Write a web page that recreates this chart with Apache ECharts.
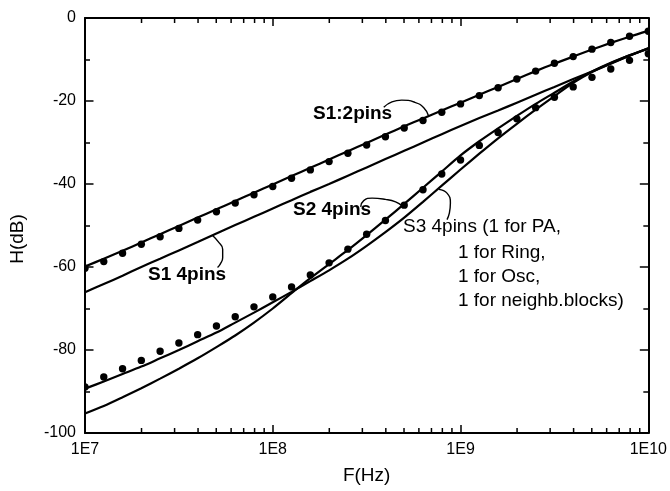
<!DOCTYPE html>
<html><head><meta charset="utf-8">
<script src="https://cdn.jsdelivr.net/npm/echarts@6/dist/echarts.min.js"></script>
<style>html,body{margin:0;padding:0;background:#fff}#c{width:670px;height:491px}</style>
</head><body><div id="c"></div>
<script>
// Frequencies (Hz), 10 points per decade
const freq = [1e7,1.259e7,1.585e7,1.995e7,2.512e7,3.162e7,3.981e7,5.012e7,6.310e7,7.943e7,
  1e8,1.259e8,1.585e8,1.995e8,2.512e8,3.162e8,3.981e8,5.012e8,6.310e8,7.943e8,
  1e9,1.259e9,1.585e9,1.995e9,2.512e9,3.162e9,3.981e9,5.012e9,6.310e9,7.943e9,1e10];

// S1:2pins simulated (line) and measured (dots)
const s1_2pins_sim = [-59.9,-58.0,-56.1,-54.1,-52.1,-50.1,-48.1,-46.1,-44.1,-42.1,
  -40.1,-38.1,-36.1,-34.1,-32.1,-30.1,-28.1,-26.1,-24.2,-22.3,
  -20.4,-18.5,-16.6,-14.7,-12.8,-11.0,-9.3,-7.6,-6.0,-4.5,-3.1];
const s1_2pins_meas = [-60.3,-58.7,-56.7,-54.5,-52.7,-50.7,-48.7,-46.7,-44.6,-42.6,
  -40.6,-38.6,-36.6,-34.6,-32.6,-30.6,-28.6,-26.5,-24.7,-22.7,
  -20.7,-18.7,-16.8,-14.7,-12.8,-10.9,-9.3,-7.5,-5.9,-4.4,-3.2];
// S1 4pins
const s1_4pins_sim = [-66.1,-64.1,-62.1,-60.0,-58.0,-56.0,-54.0,-51.9,-49.9,-47.9,
  -45.9,-43.9,-41.9,-40.0,-38.0,-36.0,-34.0,-32.0,-30.0,-28.0,
  -26.0,-24.1,-22.3,-20.4,-18.5,-16.6,-14.7,-12.9,-11.0,-9.1,-7.3];
// S2 4pins
const s2_4pins_sim = [-95.3,-93.5,-91.4,-89.2,-86.9,-84.5,-82.0,-79.3,-76.5,-73.4,
  -70.0,-66.3,-62.7,-59.3,-55.9,-52.3,-48.6,-44.8,-40.9,-37.0,
  -33.1,-29.7,-26.6,-23.6,-20.7,-18.0,-15.3,-12.9,-10.8,-9.0,-7.3];
// S3 4pins
const s3_4pins_sim = [-89.3,-87.6,-85.8,-84.0,-82.0,-80.0,-77.9,-75.8,-73.4,-71.0,
  -68.5,-66.0,-63.4,-60.8,-58.0,-54.9,-51.6,-48.1,-44.3,-40.4,
  -36.5,-32.7,-29.0,-25.5,-22.1,-18.8,-15.6,-13.0,-10.9,-9.0,-7.4];
// 4pins measured (dots)
const pins4_meas = [-88.9,-86.5,-84.5,-82.5,-80.3,-78.3,-76.3,-74.2,-72.0,-69.6,
  -67.2,-64.8,-61.9,-59.0,-55.7,-52.1,-48.8,-45.1,-41.4,-37.6,
  -34.2,-30.7,-27.6,-24.3,-21.6,-19.1,-16.6,-14.3,-12.3,-10.2,-8.6];

// Callout leader curves (data coordinates)
const callS1_2 = [[3.90e8,-21.5],[4.31e8,-20.2],[4.86e8,-19.8],[5.70e8,-20.3],[6.37e8,-21.6],[6.76e8,-23.6]];
const callS2 = [[2.94e8,-45.5],[3.05e8,-44.0],[3.38e8,-43.4],[3.98e8,-43.7],[4.51e8,-44.3],[4.89e8,-45.3]];
const callS1_4 = [[4.78e7,-52.4],[5.12e7,-53.9],[5.41e7,-55.7],[5.41e7,-57.8],[5.25e7,-59.3],[5.08e7,-60.1]];
const callS3 = [[7.66e8,-41.3],[8.47e8,-42.2],[8.83e8,-44.6],[8.71e8,-47.1],[8.47e8,-48.6]];

// Ticks
const xTickValues = [1e7,1e8,1e9,1e10];
const xTickLabels = ['1E7','1E8','1E9','1E10'];
const xMinorTicks = [2e7,3e7,4e7,5e7,6e7,7e7,8e7,9e7,2e8,3e8,4e8,5e8,6e8,7e8,8e8,9e8,2e9,3e9,4e9,5e9,6e9,7e9,8e9,9e9];
const yMin = -100, yMax = 0, yStep = 20;

const FONT = '"Liberation Sans", Arial, Helvetica, sans-serif';
const zip = (xs, ys) => xs.map((x, i) => [x, ys[i]]);

function xFmt(v) {
  for (let i = 0; i < xTickValues.length; i++) {
    if (Math.abs(Math.log10(v) - Math.log10(xTickValues[i])) < 1e-6) return xTickLabels[i];
  }
  return '';
}

const lineStyleMain = {color: '#000', width: 2.2};
function simSeries(name, ys) {
  return {name, type: 'line', data: zip(freq, ys), smooth: 0.3, showSymbol: false,
    symbol: 'none', lineStyle: lineStyleMain, itemStyle: {color: '#000'}, clip: true, z: 3};
}
function measSeries(name, ys) {
  return {name, type: 'custom', data: zip(freq, ys), clip: true, z: 4, silent: true,
    encode: {x: 0, y: 1},
    renderItem: function (params, api) {
      const p = api.coord([api.value(0), api.value(1)]);
      return {type: 'circle', shape: {cx: p[0], cy: p[1], r: 3.7}, style: {fill: '#000'}};
    }};
}
function callout(data) {
  return {type: 'line', data, smooth: 0.5, showSymbol: false, symbol: 'none',
    lineStyle: {color: '#000', width: 1.4}, clip: false, z: 5, silent: true};
}

const baseX = {
  type: 'log', logBase: 10, min: 1e7, max: 1e10,
  axisLine: {show: true, onZero: false, lineStyle: {color: '#000', width: 2}},
  axisTick: {show: true, inside: true, length: 8, lineStyle: {color: '#000', width: 1.5}},
  splitLine: {show: false}, minorTick: {show: false}
};
const baseY = {
  type: 'value', min: yMin, max: yMax, interval: yStep,
  axisLine: {show: true, onZero: false, lineStyle: {color: '#000', width: 2}},
  axisTick: {show: true, inside: true, length: 8.5, lineStyle: {color: '#000', width: 1.5}},
  minorTick: {show: true, splitNumber: 2, length: 5, lineStyle: {color: '#000', width: 1.5}},
  splitLine: {show: false}
};

const option = {
  backgroundColor: '#fff',
  animation: false,
  grid: {left: 85, top: 18, width: 565, height: 415},
  xAxis: [
    Object.assign({}, baseX, {position: 'bottom',
      axisLabel: {show: true, formatter: xFmt, fontSize: 16, color: '#000', fontFamily: FONT, margin: 9},
      name: 'F(Hz)', nameLocation: 'middle', nameGap: 33,
      nameTextStyle: {fontSize: 19, color: '#000', fontFamily: FONT}}),
    Object.assign({}, baseX, {position: 'top', axisLabel: {show: false}})
  ],
  yAxis: [
    Object.assign({}, baseY, {position: 'left',
      axisLabel: {show: true, fontSize: 16, color: '#000', fontFamily: FONT, margin: 9}}),
    Object.assign({}, baseY, {position: 'right', axisLabel: {show: false}})
  ],
  series: [
    simSeries('S1:2pins', s1_2pins_sim),
    measSeries('S1:2pins measured', s1_2pins_meas),
    simSeries('S1 4pins', s1_4pins_sim),
    simSeries('S2 4pins', s2_4pins_sim),
    simSeries('S3 4pins', s3_4pins_sim),
    measSeries('4pins measured', pins4_meas),
    callout(callS1_2), callout(callS2), callout(callS1_4), callout(callS3),
    {
      type: 'custom', silent: true, clip: false, z: 2,
      data: xMinorTicks.map(v => [v]),
      encode: {x: 0},
      renderItem: function (params, api) {
        const v = api.value(0);
        const pb = api.coord([v, yMin]);
        const pt = api.coord([v, yMax]);
        const st = {stroke: '#000', lineWidth: 1.5};
        return {type: 'group', children: [
          {type: 'line', shape: {x1: pb[0], y1: pb[1], x2: pb[0], y2: pb[1] - 5}, style: st},
          {type: 'line', shape: {x1: pt[0], y1: pt[1], x2: pt[0], y2: pt[1] + 5}, style: st}
        ]};
      }
    }
  ],
  graphic: [
    {type: 'text', x: 17.5, y: 239, rotation: Math.PI / 2,
      style: {text: 'H(dB)', font: '19px ' + FONT, fill: '#000', align: 'center', verticalAlign: 'middle'}},
    {type: 'text', x: 313, y: 114,
      style: {text: 'S1:2pins', font: 'bold 19px ' + FONT, fill: '#000', verticalAlign: 'middle'}},
    {type: 'text', x: 293, y: 210,
      style: {text: 'S2 4pins', font: 'bold 19px ' + FONT, fill: '#000', verticalAlign: 'middle'}},
    {type: 'text', x: 148, y: 275,
      style: {text: 'S1 4pins', font: 'bold 19px ' + FONT, fill: '#000', verticalAlign: 'middle'}},
    {type: 'text', x: 403, y: 227,
      style: {text: 'S3 4pins (1 for PA,', font: '19px ' + FONT, fill: '#000', verticalAlign: 'middle'}},
    {type: 'text', x: 458, y: 252.5,
      style: {text: '1 for Ring,', font: '19px ' + FONT, fill: '#000', verticalAlign: 'middle'}},
    {type: 'text', x: 458, y: 277,
      style: {text: '1 for Osc,', font: '19px ' + FONT, fill: '#000', verticalAlign: 'middle'}},
    {type: 'text', x: 458, y: 300.5,
      style: {text: '1 for neighb.blocks)', font: '19px ' + FONT, fill: '#000', verticalAlign: 'middle'}}
  ]
};

const chart = echarts.init(document.getElementById('c'), null, {renderer: 'canvas'});
chart.setOption(option);
</script>
</body></html>
